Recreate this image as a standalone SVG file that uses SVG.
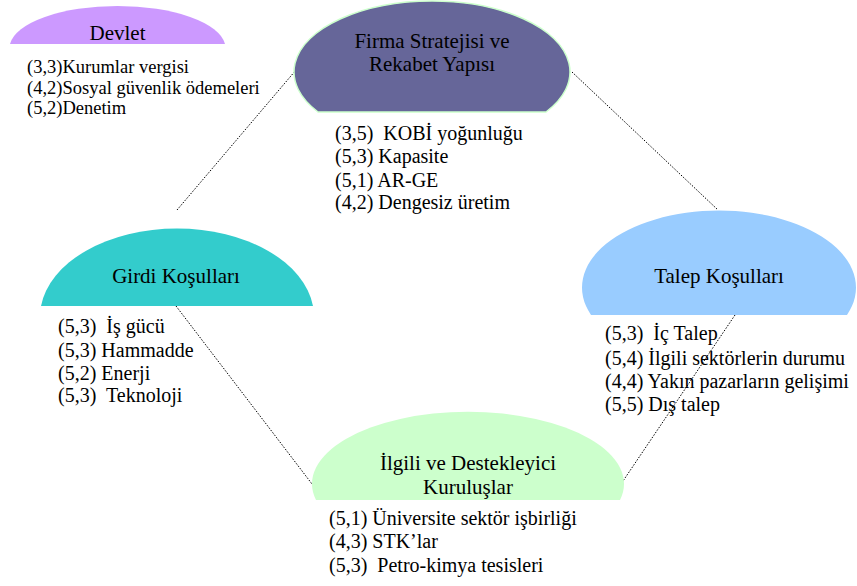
<svg xmlns="http://www.w3.org/2000/svg" width="857" height="586" viewBox="0 0 857 586">
<style>
text{font-family:"Liberation Serif","DejaVu Serif",serif;fill:#000;white-space:pre}
.t{font-size:21px;text-anchor:middle}
.l{font-size:20px}
.s{font-size:18.5px}
.c{fill:none;stroke:#000;stroke-width:1;stroke-dasharray:1.5 1.5}
</style>
<rect width="857" height="586" fill="#fff"/>
<g id="connectors">
<line class="c" x1="177" y1="210" x2="296" y2="70"/>
<line class="c" x1="572" y1="72" x2="718" y2="210"/>
<line class="c" x1="176" y1="306" x2="312" y2="484"/>
<line class="c" x1="735" y1="315" x2="621" y2="484"/>
</g>
<g id="devlet">
<path d="M10,44 A108,42 0 0 1 225,44 Z" fill="#cc99ff"/>
<text class="t" x="117.5" y="40">Devlet</text>
<text class="s" x="27" y="73">(3,3)Kurumlar vergisi</text>
<text class="s" x="27" y="93.5">(4,2)Sosyal güvenlik ödemeleri</text>
<text class="s" x="27" y="113.5">(5,2)Denetim</text>
</g>
<g id="firma">
<path d="M318,112 A138,71 0 1 1 546,112 Z" fill="#666699" stroke="#ccffcc" stroke-width="1.5"/>
<text class="t" x="432" y="48">Firma Stratejisi ve</text>
<text class="t" x="432" y="71">Rekabet Yapısı</text>
<text class="l" x="335" y="140" xml:space="preserve">(3,5)  KOBİ yoğunluğu</text>
<text class="l" x="335" y="163">(5,3) Kapasite</text>
<text class="l" x="335" y="187">(5,1) AR-GE</text>
<text class="l" x="335" y="209">(4,2) Dengesiz üretim</text>
</g>
<g id="girdi">
<path d="M41,306 A137,88 0 0 1 313,306 Z" fill="#33cccc"/>
<text class="t" x="176" y="283">Girdi Koşulları</text>
<text class="l" x="58" y="333" xml:space="preserve">(5,3)  İş gücü</text>
<text class="l" x="58" y="357">(5,3) Hammadde</text>
<text class="l" x="58" y="380">(5,2) Enerji</text>
<text class="l" x="58" y="402" xml:space="preserve">(5,3)  Teknoloji</text>
</g>
<g id="talep">
<path d="M591,315 A137,77 0 1 1 847,315 Z" fill="#99ccff"/>
<text class="t" x="719" y="283">Talep Koşulları</text>
<text class="l" x="605" y="340" xml:space="preserve">(5,3)  İç Talep</text>
<text class="l" x="605" y="365">(5,4) İlgili sektörlerin durumu</text>
<text class="l" x="605" y="388">(4,4) Yakın pazarların gelişimi</text>
<text class="l" x="605" y="411">(5,5) Dış talep</text>
</g>
<g id="ilgili">
<path d="M316,500 A156,72 0 1 1 620,500 Z" fill="#ccffcc"/>
<text class="t" x="468" y="470">İlgili ve Destekleyici</text>
<text class="t" x="468" y="494">Kuruluşlar</text>
<text class="l" x="329" y="525">(5,1) Üniversite sektör işbirliği</text>
<text class="l" x="329" y="548">(4,3) STK’lar</text>
<text class="l" x="329" y="572" xml:space="preserve">(5,3)  Petro-kimya tesisleri</text>
</g>
</svg>
